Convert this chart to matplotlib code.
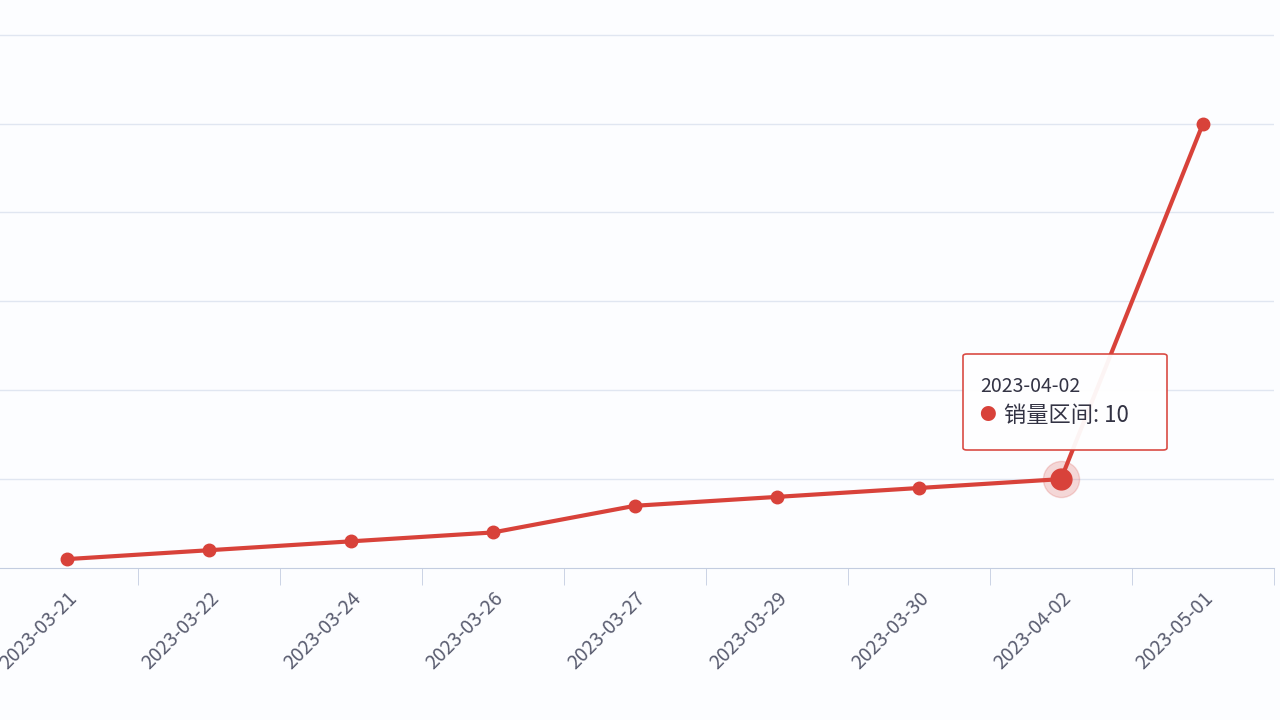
import matplotlib.pyplot as plt
from matplotlib.patches import FancyBboxPatch

plt.rcParams['font.family'] = ['Noto Sans CJK SC', 'DejaVu Sans']

dates = ['2023-03-21', '2023-03-22', '2023-03-24', '2023-03-26', '2023-03-27',
         '2023-03-29', '2023-03-30', '2023-04-02', '2023-05-01']
sales = [1, 2, 3, 4, 7, 8, 9, 10, 50]
series_name = '销量区间'
hl = 7

RED = '#d8423a'
fig = plt.figure(figsize=(12.8, 7.2), dpi=100)
fig.patch.set_facecolor('#fcfdff')
ax = fig.add_axes([-4 / 1280, 1 - 568 / 720, 1278 / 1280, 568 / 720])
ax.set_facecolor('#fcfdff')
x = list(range(len(dates)))
ax.plot(x, sales, color=RED, lw=3, marker='o', ms=9, zorder=3)
ax.plot(x[hl], sales[hl], 'o', ms=26, color=RED, alpha=0.2, zorder=2)
ax.plot(x[hl], sales[hl], 'o', ms=15, color=RED, zorder=4)
ax.set_xlim(-0.5, len(dates) - 0.5)
ax.set_ylim(0, 63.9)
for g in range(10, 61, 10):
    ax.axhline(g, color='#e0e6f1', lw=1, zorder=0)
for s in ['top', 'right', 'left']:
    ax.spines[s].set_visible(False)
ax.spines['bottom'].set_color('#c3cde0')
ax.set_yticks([])
ax.set_xticks([i + 0.5 for i in x], minor=True)
ax.tick_params(axis='x', which='minor', length=12, color='#c3cde0')
ax.set_xticks(x)
ax.set_xticklabels(dates, rotation=45, ha='right', rotation_mode='anchor',
                   fontsize=14, color='#5a5d70')
ax.tick_params(axis='x', which='major', length=0, pad=14)

# tooltip
box = FancyBboxPatch((963 / 1280, 1 - 450 / 720), 204 / 1280, 96 / 720,
                     boxstyle='round,pad=0,rounding_size=0.003', transform=fig.transFigure,
                     facecolor='white', edgecolor=RED, lw=1.2, alpha=0.95, zorder=10)
fig.patches.append(box)
fig.text(980 / 1280, 1 - 387 / 720, dates[hl], fontsize=14, color='#333344', va='center', zorder=11)
fig.text(987 / 1280, 1 - 416 / 720, '●', fontsize=12, color=RED, ha='center', va='center', zorder=11)
fig.text(1004 / 1280, 1 - 416 / 720, f'{series_name}: {sales[hl]}', fontsize=16,
         color='#333344', va='center', zorder=11)

fig.savefig('out.png', dpi=100, facecolor=fig.get_facecolor())
